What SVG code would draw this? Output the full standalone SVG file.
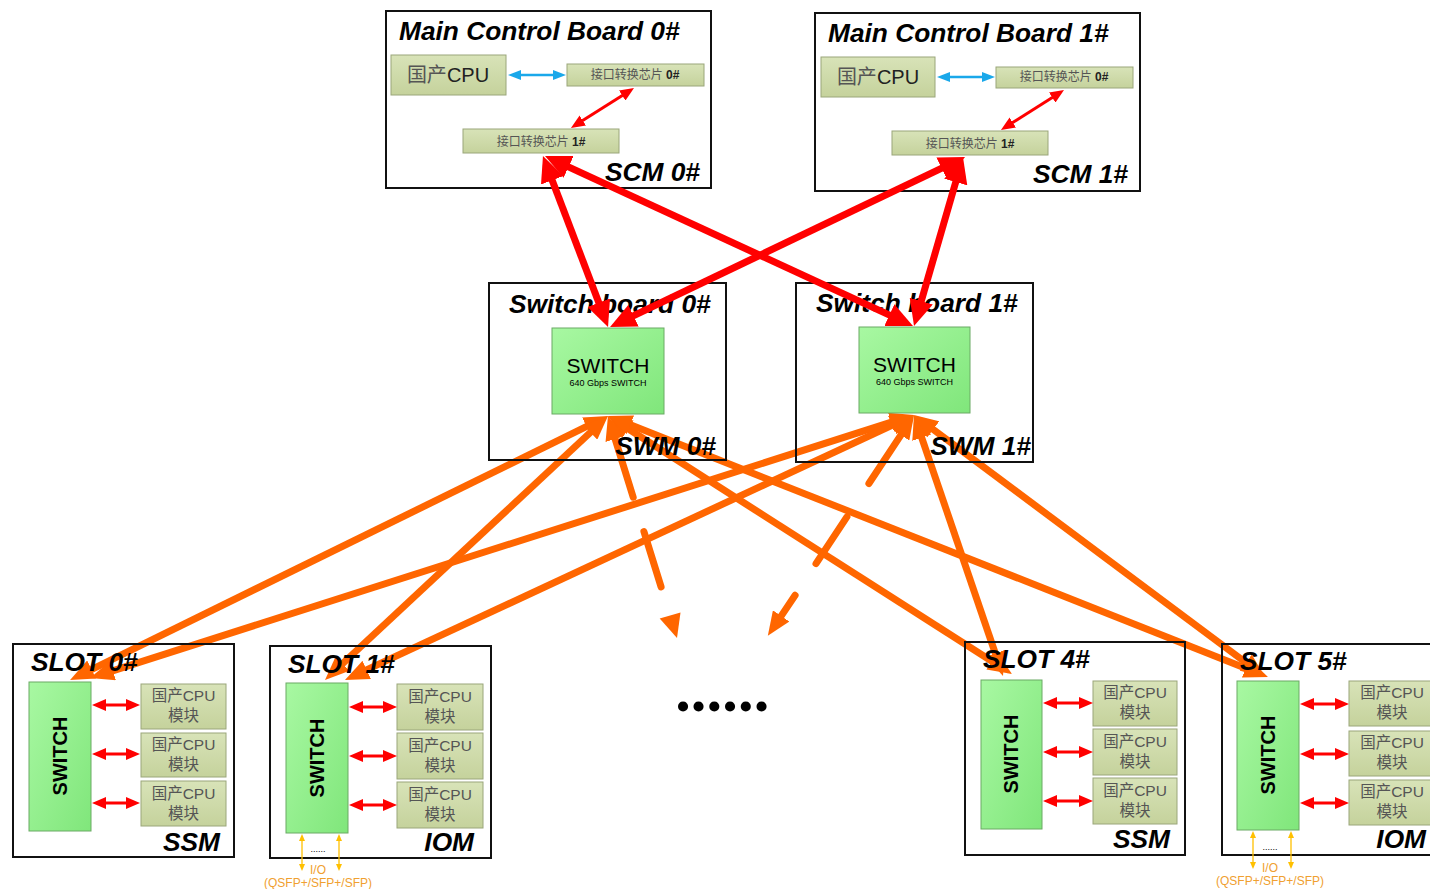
<svg xmlns="http://www.w3.org/2000/svg" width="1430" height="889" viewBox="0 0 1430 889">
<defs>
<linearGradient id="gSw" x1="0" y1="0" x2="1" y2="1"><stop offset="0" stop-color="#a8f8a2"/><stop offset="1" stop-color="#80e67b"/></linearGradient>
<linearGradient id="gChip" x1="0" y1="0" x2="0" y2="1"><stop offset="0" stop-color="#d8e3b8"/><stop offset="1" stop-color="#c5d29c"/></linearGradient>
<marker id="ho" markerUnits="userSpaceOnUse" markerWidth="24" markerHeight="20" refX="2" refY="10" orient="auto-start-reverse"><path d="M0,0 L24,10 L0,20 z" fill="#ff6600"/></marker>
<marker id="hr" markerUnits="userSpaceOnUse" markerWidth="26" markerHeight="24" refX="2" refY="12" orient="auto-start-reverse"><path d="M0,0 L26,12 L0,24 z" fill="#ff0000"/></marker>
<marker id="hs" markerUnits="userSpaceOnUse" markerWidth="14" markerHeight="12" refX="2" refY="6" orient="auto-start-reverse"><path d="M0,0 L14,6 L0,12 z" fill="#ff0000"/></marker>
<marker id="hb" markerUnits="userSpaceOnUse" markerWidth="13" markerHeight="10" refX="2" refY="5" orient="auto-start-reverse"><path d="M0,0 L13,5 L0,10 z" fill="#1aa8ea"/></marker>
<marker id="hy" markerUnits="userSpaceOnUse" markerWidth="7" markerHeight="6" refX="1" refY="3" orient="auto-start-reverse"><path d="M0,0 L7,3 L0,6 z" fill="#ffc000"/></marker>
</defs>
<style>
.box{fill:none;stroke:#111;stroke-width:2}
.sw{fill:url(#gSw);stroke:#6aaa64;stroke-width:1}
.chip{fill:url(#gChip);stroke:#9aa67a;stroke-width:1}
.ttl{font-family:"Liberation Sans",Arial,sans-serif;font-weight:bold;font-style:italic;font-size:26.3px;fill:#000}
.cn{font-family:"Liberation Sans","Noto Sans CJK SC",sans-serif;fill:#555}
.swt{font-family:"Liberation Sans",Arial,sans-serif;fill:#000;text-anchor:middle}
.io{font-family:"Liberation Sans",Arial,sans-serif;font-size:12px;fill:#f0a030;text-anchor:middle}
.lo{stroke:#ff6600;stroke-width:7;fill:none}
.lr{stroke:#ff0000;stroke-width:7;fill:none}
.ls{stroke:#ff0000;stroke-width:3;fill:none}
.lb{stroke:#1aa8ea;stroke-width:2.5;fill:none}
.ly{stroke:#ffc000;stroke-width:1.3;fill:none}
</style>
<rect width="1430" height="889" fill="#fff"/>

<g id="connectors-orange">
<line class="lo" x1="588.3" y1="425.7" x2="89.8" y2="670.3" marker-start="url(#ho)" marker-end="url(#ho)"/>
<line class="lo" x1="591.9" y1="431.0" x2="341.1" y2="665.0" marker-start="url(#ho)" marker-end="url(#ho)"/>
<line class="lo" x1="626.5" y1="427.8" x2="993.5" y2="662.2" marker-start="url(#ho)" marker-end="url(#ho)"/>
<line class="lo" x1="628.5" y1="424.1" x2="1247.5" y2="668.9" marker-start="url(#ho)" marker-end="url(#ho)"/>
<line class="lo" x1="893.0" y1="421.7" x2="111.0" y2="671.3" marker-start="url(#ho)" marker-end="url(#ho)"/>
<line class="lo" x1="894.1" y1="424.3" x2="364.9" y2="670.7" marker-start="url(#ho)" marker-end="url(#ho)"/>
<line class="lo" x1="921.1" y1="435.8" x2="995.9" y2="655.2" marker-start="url(#ho)" marker-end="url(#ho)"/>
<line class="lo" x1="931.6" y1="428.2" x2="1247.4" y2="663.8" marker-start="url(#ho)" marker-end="url(#ho)"/>
<line class="lo" x1="614.5" y1="437" x2="633.2" y2="497.2" stroke-width="6" stroke-linecap="round" marker-start="url(#ho)"/>
<line class="lo" x1="643.9" y1="531.5" x2="661.1" y2="586.9" stroke-width="6" stroke-linecap="round"/>
<polygon points="677,638 680.5,612.5 659.7,618.4" fill="#ff6600"/>
<line class="lo" x1="902" y1="433.4" x2="868.9" y2="483.5" stroke-width="6" stroke-linecap="round" marker-start="url(#ho)"/>
<line class="lo" x1="846.9" y1="516.9" x2="816.0" y2="563.6" stroke-width="6" stroke-linecap="round"/>
<line class="lo" x1="795.1" y1="595.3" x2="780.1" y2="617.6" stroke-width="6" stroke-linecap="round" marker-end="url(#ho)"/>
</g>

<g id="mcb0">
<rect class="box" x="386" y="11" width="325" height="177"/>
<text class="ttl" x="399" y="40">Main Control Board 0#</text>
<rect class="chip" x="391" y="55" width="115" height="40"/>
<text class="cn" x="448" y="82" font-size="20" text-anchor="middle">国产<tspan fill="#222">CPU</tspan></text>
<rect class="chip" x="567" y="64" width="137" height="22"/>
<text class="cn" x="635" y="79" font-size="12" text-anchor="middle">接口转换芯片 <tspan fill="#222" font-weight="bold">0#</tspan></text>
<rect class="chip" x="463" y="129" width="156" height="24"/>
<text class="cn" x="541" y="146" font-size="12" text-anchor="middle">接口转换芯片 <tspan fill="#222" font-weight="bold">1#</tspan></text>
<text class="ttl" x="700" y="181" text-anchor="end">SCM 0#</text>
</g>

<g id="mcb1">
<rect class="box" x="815" y="13" width="325" height="178"/>
<text class="ttl" x="828" y="42">Main Control Board 1#</text>
<rect class="chip" x="821" y="57" width="114" height="40"/>
<text class="cn" x="878" y="84" font-size="20" text-anchor="middle">国产<tspan fill="#222">CPU</tspan></text>
<rect class="chip" x="996" y="67" width="137" height="21"/>
<text class="cn" x="1064" y="81" font-size="12" text-anchor="middle">接口转换芯片 <tspan fill="#222" font-weight="bold">0#</tspan></text>
<rect class="chip" x="892" y="131" width="156" height="24"/>
<text class="cn" x="970" y="148" font-size="12" text-anchor="middle">接口转换芯片 <tspan fill="#222" font-weight="bold">1#</tspan></text>
<text class="ttl" x="1128" y="183" text-anchor="end">SCM 1#</text>
</g>

<g id="swb0">
<rect class="box" x="489" y="283" width="237" height="177" stroke-width="1.6"/>
<text class="ttl" x="509" y="313">Switch board 0#</text>
<rect class="sw" x="552" y="328" width="112" height="86"/>
<text class="swt" x="608" y="373" font-size="21">SWITCH</text>
<text class="swt" x="608" y="386" font-size="9" fill="#333">640 Gbps  SWITCH</text>
<text class="ttl" x="716" y="455" text-anchor="end">SWM 0#</text>
</g>

<g id="swb1">
<rect class="box" x="796" y="283" width="237" height="179" stroke-width="1.6"/>
<text class="ttl" x="816" y="312">Switch board 1#</text>
<rect class="sw" x="859" y="327" width="111" height="86"/>
<text class="swt" x="914.5" y="372" font-size="21">SWITCH</text>
<text class="swt" x="914.5" y="385" font-size="9" fill="#333">640 Gbps  SWITCH</text>
<text class="ttl" x="1031" y="455" text-anchor="end">SWM 1#</text>
</g>

<g id="slot0">
<rect class="box" x="13" y="644" width="221" height="213"/>
<text class="ttl" x="31" y="671">SLOT 0#</text>
<rect class="sw" x="29" y="682" width="62" height="149"/>
<text class="swt" transform="translate(67,756) rotate(-90)" font-size="20" font-weight="bold">SWITCH</text>
<rect class="chip" x="141" y="684" width="85" height="45"/>
<text class="cn" x="183.5" y="701" font-size="15.5" text-anchor="middle">国产CPU</text>
<text class="cn" x="183.5" y="721" font-size="15.5" text-anchor="middle">模块</text>
<rect class="chip" x="141" y="733" width="85" height="44"/>
<text class="cn" x="183.5" y="750" font-size="15.5" text-anchor="middle">国产CPU</text>
<text class="cn" x="183.5" y="770" font-size="15.5" text-anchor="middle">模块</text>
<rect class="chip" x="141" y="781" width="85" height="45"/>
<text class="cn" x="183.5" y="799" font-size="15.5" text-anchor="middle">国产CPU</text>
<text class="cn" x="183.5" y="819" font-size="15.5" text-anchor="middle">模块</text>
<text class="ttl" x="220" y="851" text-anchor="end">SSM</text>
</g>

<g id="slot1">
<rect class="box" x="270" y="646" width="221" height="212"/>
<text class="ttl" x="288" y="673">SLOT 1#</text>
<rect class="sw" x="286" y="683" width="62" height="150"/>
<text class="swt" transform="translate(324,758) rotate(-90)" font-size="20" font-weight="bold">SWITCH</text>
<rect class="chip" x="397" y="684" width="86" height="46"/>
<text class="cn" x="440" y="702" font-size="15.5" text-anchor="middle">国产CPU</text>
<text class="cn" x="440" y="722" font-size="15.5" text-anchor="middle">模块</text>
<rect class="chip" x="397" y="733" width="86" height="46"/>
<text class="cn" x="440" y="751" font-size="15.5" text-anchor="middle">国产CPU</text>
<text class="cn" x="440" y="771" font-size="15.5" text-anchor="middle">模块</text>
<rect class="chip" x="397" y="782" width="86" height="46"/>
<text class="cn" x="440" y="800" font-size="15.5" text-anchor="middle">国产CPU</text>
<text class="cn" x="440" y="820" font-size="15.5" text-anchor="middle">模块</text>
<text class="ttl" x="474" y="851" text-anchor="end">IOM</text>
<text class="swt" x="318" y="852" font-size="9">......</text>
<text class="io" x="318" y="874">I/O</text>
<text class="io" x="318" y="887">(QSFP+/SFP+/SFP)</text>
</g>

<g id="slot4">
<rect class="box" x="965" y="642" width="220" height="213"/>
<text class="ttl" x="983" y="668">SLOT 4#</text>
<rect class="sw" x="981" y="680" width="61" height="149"/>
<text class="swt" transform="translate(1018,754) rotate(-90)" font-size="20" font-weight="bold">SWITCH</text>
<rect class="chip" x="1093" y="681" width="84" height="45"/>
<text class="cn" x="1135" y="698" font-size="15.5" text-anchor="middle">国产CPU</text>
<text class="cn" x="1135" y="718" font-size="15.5" text-anchor="middle">模块</text>
<rect class="chip" x="1093" y="729" width="84" height="46"/>
<text class="cn" x="1135" y="747" font-size="15.5" text-anchor="middle">国产CPU</text>
<text class="cn" x="1135" y="767" font-size="15.5" text-anchor="middle">模块</text>
<rect class="chip" x="1093" y="778" width="84" height="46"/>
<text class="cn" x="1135" y="796" font-size="15.5" text-anchor="middle">国产CPU</text>
<text class="cn" x="1135" y="816" font-size="15.5" text-anchor="middle">模块</text>
<text class="ttl" x="1170" y="848" text-anchor="end">SSM</text>
</g>

<g id="slot5">
<rect class="box" x="1222" y="644" width="215" height="211"/>
<text class="ttl" x="1240" y="670">SLOT 5#</text>
<rect class="sw" x="1237" y="681" width="62" height="149"/>
<text class="swt" transform="translate(1275,755) rotate(-90)" font-size="20" font-weight="bold">SWITCH</text>
<rect class="chip" x="1349" y="681" width="90" height="45"/>
<text class="cn" x="1392" y="698" font-size="15.5" text-anchor="middle">国产CPU</text>
<text class="cn" x="1392" y="718" font-size="15.5" text-anchor="middle">模块</text>
<rect class="chip" x="1349" y="731" width="90" height="45"/>
<text class="cn" x="1392" y="748" font-size="15.5" text-anchor="middle">国产CPU</text>
<text class="cn" x="1392" y="768" font-size="15.5" text-anchor="middle">模块</text>
<rect class="chip" x="1349" y="780" width="90" height="45"/>
<text class="cn" x="1392" y="797" font-size="15.5" text-anchor="middle">国产CPU</text>
<text class="cn" x="1392" y="817" font-size="15.5" text-anchor="middle">模块</text>
<text class="ttl" x="1426" y="848" text-anchor="end">IOM</text>
<text class="swt" x="1270" y="850" font-size="9">......</text>
<text class="io" x="1270" y="872">I/O</text>
<text class="io" x="1270" y="885">(QSFP+/SFP+/SFP)</text>
</g>

<g id="ellipsis">
<text x="724" y="711" font-family="Lato, 'Open Sans', sans-serif" font-weight="bold" font-style="italic" font-size="66" letter-spacing="0" text-anchor="middle" fill="#000">......</text>
</g>

<g id="connectors">
<line class="lb" x1="519" y1="75" x2="555" y2="75" marker-start="url(#hb)" marker-end="url(#hb)"/>
<line class="lb" x1="948" y1="77" x2="984" y2="77" marker-start="url(#hb)" marker-end="url(#hb)"/>
<line class="ls" x1="623.9" y1="94.4" x2="581.1" y2="121.6" marker-start="url(#hs)" marker-end="url(#hs)"/>
<line class="ls" x1="1053.9" y1="96.4" x2="1011.1" y2="123.6" marker-start="url(#hs)" marker-end="url(#hs)"/>

<line class="lr" x1="551.5" y1="178.4" x2="599.5" y2="304.6" marker-start="url(#hr)" marker-end="url(#hr)"/>
<line class="lr" x1="566.8" y1="166.1" x2="891.2" y2="315.9" marker-start="url(#hr)" marker-end="url(#hr)"/>
<line class="lr" x1="943.4" y1="167.4" x2="631.7" y2="316.6" marker-start="url(#hr)" marker-end="url(#hr)"/>
<line class="lr" x1="956.3" y1="180.1" x2="920.7" y2="303.0" marker-start="url(#hr)" marker-end="url(#hr)"/>

<line class="ls" x1="104" y1="705" x2="128" y2="705" marker-start="url(#hs)" marker-end="url(#hs)"/>
<line class="ls" x1="104" y1="754" x2="128" y2="754" marker-start="url(#hs)" marker-end="url(#hs)"/>
<line class="ls" x1="104" y1="803" x2="128" y2="803" marker-start="url(#hs)" marker-end="url(#hs)"/>
<line class="ls" x1="361" y1="707" x2="385" y2="707" marker-start="url(#hs)" marker-end="url(#hs)"/>
<line class="ls" x1="361" y1="756" x2="385" y2="756" marker-start="url(#hs)" marker-end="url(#hs)"/>
<line class="ls" x1="361" y1="805" x2="385" y2="805" marker-start="url(#hs)" marker-end="url(#hs)"/>
<line class="ls" x1="1055" y1="703" x2="1081" y2="703" marker-start="url(#hs)" marker-end="url(#hs)"/>
<line class="ls" x1="1055" y1="752" x2="1081" y2="752" marker-start="url(#hs)" marker-end="url(#hs)"/>
<line class="ls" x1="1055" y1="801" x2="1081" y2="801" marker-start="url(#hs)" marker-end="url(#hs)"/>
<line class="ls" x1="1312" y1="704" x2="1337" y2="704" marker-start="url(#hs)" marker-end="url(#hs)"/>
<line class="ls" x1="1312" y1="754" x2="1337" y2="754" marker-start="url(#hs)" marker-end="url(#hs)"/>
<line class="ls" x1="1312" y1="803" x2="1337" y2="803" marker-start="url(#hs)" marker-end="url(#hs)"/>

<line class="ly" x1="302" y1="840" x2="302" y2="865" marker-start="url(#hy)" marker-end="url(#hy)"/>
<line class="ly" x1="339" y1="840" x2="339" y2="865" marker-start="url(#hy)" marker-end="url(#hy)"/>
<line class="ly" x1="1253" y1="837" x2="1253" y2="863" marker-start="url(#hy)" marker-end="url(#hy)"/>
<line class="ly" x1="1291" y1="837" x2="1291" y2="863" marker-start="url(#hy)" marker-end="url(#hy)"/>
</g>
</svg>
